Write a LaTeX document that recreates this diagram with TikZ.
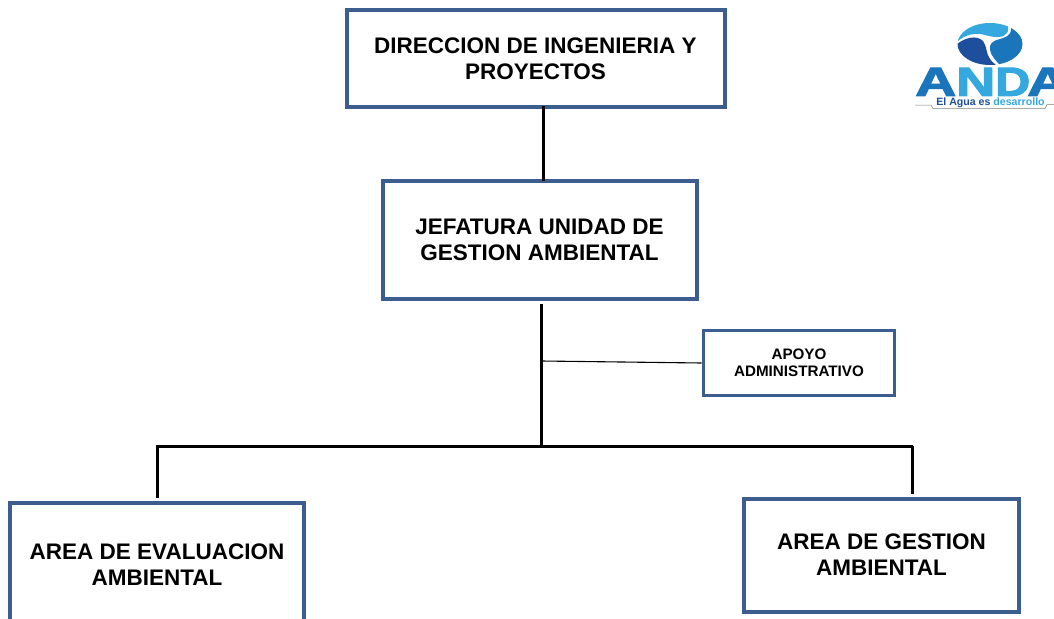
\documentclass[tikz,border=0pt]{standalone}
\usepackage{fontspec}
\usepackage{graphicx}
\setmainfont{Liberation Sans}
\newfontfamily\logofont[BoldFeatures={FakeBold=2.5}]{Liberation Sans}
\definecolor{boxblue}{HTML}{3B5E8E}
\definecolor{logosky}{HTML}{35A8E0}
\definecolor{logomid}{HTML}{1B75BB}
\definecolor{logonavy}{HTML}{1D4F9C}
\begin{document}
\begin{tikzpicture}[x=1pt,y=-1pt,
    unitbox/.style={draw=boxblue,line width=4pt,fill=white,align=center,inner sep=0pt,font=\fontsize{22.5}{26}\selectfont\bfseries},
    smallbox/.style={unitbox,line width=3.6pt,font=\fontsize{15.2}{17}\selectfont\bfseries},
    link/.style={black,line width=3pt},
    logotext/.style={inner sep=0pt,anchor=south west}]
    \useasboundingbox (0,0) rectangle (1054,618);
    \clip (0,0) rectangle (1054,618);
    % boxes
    \node[unitbox,minimum width=378pt,minimum height=97pt] (direccion) at (535.5,58.5) {DIRECCION DE INGENIERIA Y\\PROYECTOS};
    \node[unitbox,minimum width=314pt,minimum height=118pt] (jefatura) at (539.5,239.5) {JEFATURA UNIDAD DE\\GESTION AMBIENTAL};
    \node[smallbox,minimum width=191pt,minimum height=65pt] (apoyo) at (799,363) {APOYO\\ADMINISTRATIVO};
    \node[unitbox,minimum width=294pt,minimum height=123pt] (evaluacion) at (157,564.5) {AREA DE EVALUACION\\AMBIENTAL};
    \node[unitbox,minimum width=275pt,minimum height=113pt] (gestion) at (881.5,555) {AREA DE GESTION\\AMBIENTAL};
    % connectors
    \coordinate (topdrop) at (543,106);
    \coordinate (topend) at (543,181);
    \coordinate (stemtop) at (541.5,304);
    \coordinate (stem) at (541.5,446);
    \coordinate (tap) at (541.5,361);
    \coordinate (busleft) at (155.5,446);
    \coordinate (busright) at (913,446);
    \coordinate (dropleft) at (157,498);
    \coordinate (dropright) at (912,494);
    \draw[link] (topdrop)--(topend);
    \draw[link] (stemtop)--(stem);
    \draw[link] (busleft)--(busright);
    \draw[link] (dropleft|-busleft)--(dropleft);
    \draw[link] (dropright|-busright)--(dropright);
    \draw[black,line width=1.1pt] (tap)--(apoyo.west);
    % logo
    \begin{scope}
        \clip (990,44) ellipse (32.5pt and 21pt);
        \fill[logomid] (1009,20) .. controls (1013,30) and (1012,36) .. (1000,39) .. controls (992,41) and (989,44) .. (990,50) .. controls (991,56) and (996,61) .. (1003,68) -- (1030,68) -- (1030,20) -- cycle;
        \fill[logosky] (958,41) .. controls (965,35) and (975,32) .. (985,35) .. controls (995,38) and (1004,38) .. (1007,33) .. controls (1009,30) and (1008,27) .. (1007,20) -- (950,20) -- cycle;
        \fill[logonavy] (957,44) .. controls (966,37) and (977,35) .. (983,41) .. controls (987,46) and (986,54) .. (990,59) .. controls (992,62) and (996,65) .. (1000,68) -- (950,68) -- cycle;
    \end{scope}
    \node[logotext,text=logomid] (logoa) at (915,96) {\resizebox{41pt}{28pt}{\logofont\bfseries A}};
    \node[logotext,text=logosky] (logon) at (956,96) {\resizebox{39pt}{28pt}{\logofont\bfseries N}};
    \node[logotext,text=logosky] (logod) at (995,96) {\resizebox{35pt}{28pt}{\logofont\bfseries D}};
    \node[logotext,text=logomid] (logob) at (1027,96) {\resizebox{41pt}{28pt}{\logofont\bfseries A}};
    \node[inner sep=0pt] (lema) at (990.5,103) {\fontsize{10.6}{11}\selectfont\bfseries\textcolor{logonavy}{El Agua es} \textcolor{logosky}{desarrollo}};
    \draw[gray,line width=.5pt] (915,105)--(931,105)--(933,108.5)--(1045,108.5)--(1047,104.5)--(1054,104.5);
\end{tikzpicture}
\end{document}
